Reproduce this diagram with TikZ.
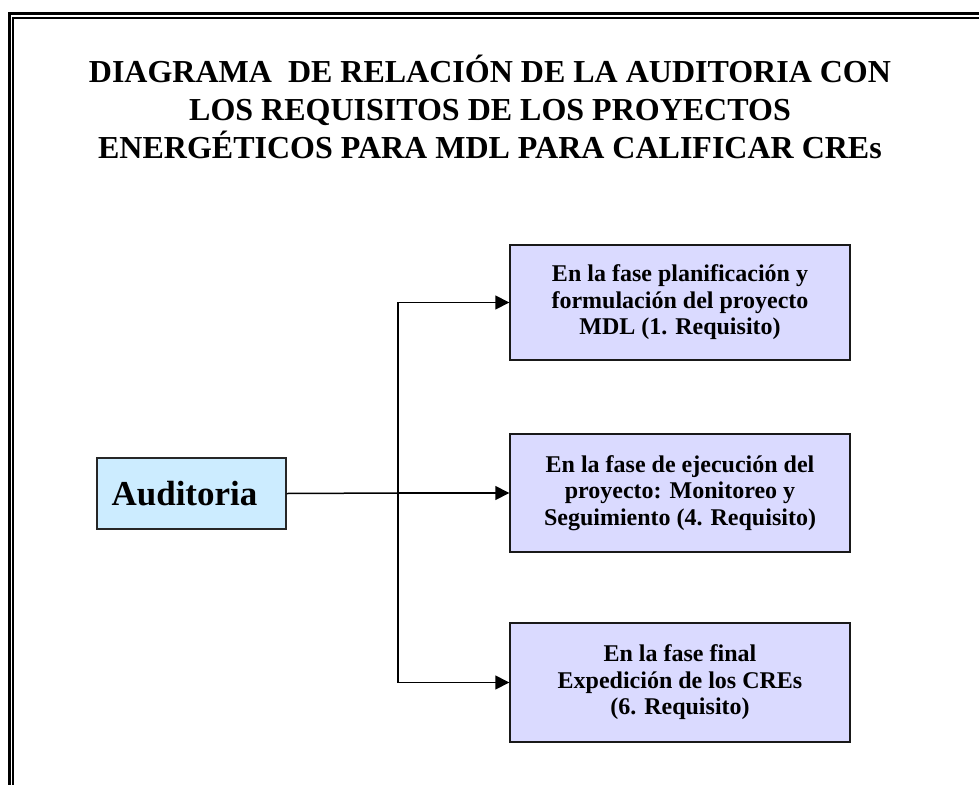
\documentclass[tikz,border=0pt]{standalone}
\usepackage{fontspec}
\setmainfont{Liberation Serif}
\usetikzlibrary{arrows.meta}
\definecolor{audfill}{RGB}{204,236,255}
\definecolor{phasefill}{RGB}{218,218,255}
\tikzset{
  titleline/.style={anchor=base, inner sep=0pt, font=\fontsize{32}{38}\selectfont\bfseries},
  audbox/.style={draw=black!85, line width=1.4pt, fill=audfill, minimum width=189pt, minimum height=71pt, inner sep=0pt, font=\fontsize{35}{40}\selectfont\bfseries},
  phasebox/.style={draw=black!90, line width=1.4pt, fill=phasefill, minimum width=340pt, inner sep=0pt, font=\fontsize{24}{26.5}\selectfont\bfseries, align=center},
  conn/.style={line width=1.5pt},
  arr/.style={line width=1.5pt, -{Triangle[length=14pt,width=14pt]}},
}
\begin{document}
\begin{tikzpicture}[x=1pt,y=-1pt]
\useasboundingbox (0,0) rectangle (979,784);
\clip (0,0) rectangle (979,784);
\draw[line width=3pt] (9,800) -- (9,13.7) -- (1000,13.7);
\draw[line width=1.8pt] (13.2,800) -- (13.2,18.2) -- (1000,18.2);
\node[titleline] (title1) at (490,82) {DIAGRAMA\ \ DE RELACIÓN DE LA AUDITORIA CON};
\node[titleline] (title2) at (490,120) {LOS REQUISITOS DE LOS PROYECTOS};
\node[titleline] (title3) at (490,158) {ENERGÉTICOS PARA MDL PARA CALIFICAR CREs};
\node[audbox] (aud) at (191.5,493.5) {Auditoria\hspace*{14pt}};
\node[phasebox, minimum height=115pt] (p1) at (680,302.5) {En la fase planificación y\\formulación del proyecto\\MDL (1. Requisito)};
\node[phasebox, minimum height=118pt] (p2) at (680,493) {En la fase de ejecución del\\proyecto: Monitoreo y\\Seguimiento (4. Requisito)};
\node[phasebox, minimum height=119pt] (p3) at (680,682.5) {En la fase final\\Expedición de los CREs\\(6. Requisito)};
\coordinate (j) at (398,493);
\draw[conn] (aud.east) -- (j);
\draw[arr] (j) |- (p1.west);
\draw[arr] (j) -- (p2.west);
\draw[arr] (j) |- (p3.west);
\end{tikzpicture}
\end{document}
